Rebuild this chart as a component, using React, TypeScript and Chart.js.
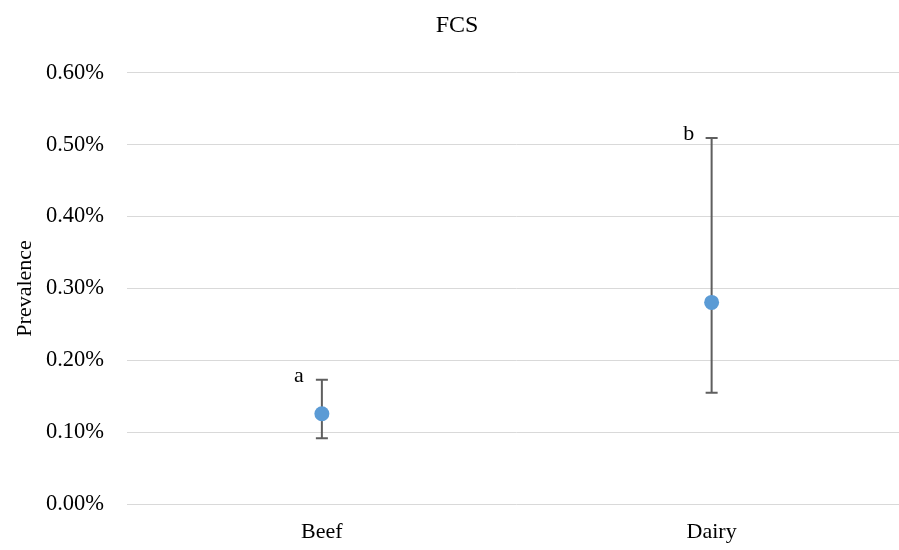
import React, { useEffect, useRef } from "react";
import { Chart, registerables } from "chart.js";

Chart.register(...registerables);

const categories = ["Beef", "Dairy"];
const prevalence = [0.1256, 0.2805];
const lowerBound = [0.0916, 0.1548];
const upperBound = [0.1730, 0.5093];
const groupLetters = ["a", "b"];
const yTicks = [0, 0.1, 0.2, 0.3, 0.4, 0.5, 0.6];

const FONT = "'Liberation Serif'";

const errorBarPlugin = {
  id: "errorBars",
  beforeDatasetsDraw(chart: any) {
    const ctx = chart.ctx;
    const x = chart.scales.x;
    const y = chart.scales.y;
    ctx.save();
    ctx.strokeStyle = "#5f5f5f";
    ctx.lineWidth = 2;
    categories.forEach((_, i) => {
      const px = x.getPixelForValue(i);
      const yt = y.getPixelForValue(upperBound[i]);
      const yb = y.getPixelForValue(lowerBound[i]);
      ctx.beginPath();
      ctx.moveTo(px, yt);
      ctx.lineTo(px, yb);
      ctx.moveTo(px - 6, yt);
      ctx.lineTo(px + 6, yt);
      ctx.moveTo(px - 6, yb);
      ctx.lineTo(px + 6, yb);
      ctx.stroke();
    });
    ctx.restore();
  },
  afterDatasetsDraw(chart: any) {
    const ctx = chart.ctx;
    const x = chart.scales.x;
    const y = chart.scales.y;
    ctx.save();
    ctx.fillStyle = "#000000";
    ctx.font = "22px " + FONT;
    ctx.textAlign = "center";
    ctx.textBaseline = "alphabetic";
    categories.forEach((_, i) => {
      const px = x.getPixelForValue(i);
      const yt = y.getPixelForValue(upperBound[i]);
      ctx.fillText(groupLetters[i], px - 23, yt + 2);
    });
    ctx.restore();
  },
};

export default function App() {
  const ref = useRef<HTMLCanvasElement | null>(null);
  useEffect(() => {
    if (!ref.current) return;
    const chart = new Chart(ref.current, {
      type: "line",
      data: {
        labels: categories,
        datasets: [
          {
            label: "Prevalence",
            data: prevalence,
            showLine: false,
            pointRadius: 7.5,
            pointHoverRadius: 7.5,
            pointBackgroundColor: "#5b9bd5",
            pointBorderColor: "#5b9bd5",
            pointBorderWidth: 0,
          },
        ],
      },
      options: {
        responsive: false,
        animation: false,
        devicePixelRatio: 1,
        layout: { padding: { left: 0, right: 0, top: 0, bottom: 3 } },
        plugins: {
          legend: { display: false },
          tooltip: { enabled: false },
          title: {
            display: true,
            text: "FCS",
            color: "#000000",
            font: { family: FONT, size: 24, weight: "normal" },
            padding: { top: 11, bottom: 33 },
          },
        },
        scales: {
          x: {
            type: "category",
            offset: true,
            afterFit(scale: any) {
              scale.height = 43;
            },
            grid: { display: false, drawTicks: false },
            border: { display: false },
            ticks: {
              color: "#000000",
              padding: 15,
              font: { family: FONT, size: 22 },
            },
          },
          y: {
            min: 0,
            max: 0.6,
            afterFit(scale: any) {
              scale.width = 127;
            },
            afterBuildTicks(scale: any) {
              scale.ticks = yTicks.map((v) => ({ value: v }));
            },
            grid: { color: "#d9d9d9", lineWidth: 1, drawTicks: false },
            border: { display: false },
            ticks: {
              color: "#000000",
              padding: 23,
              font: { family: FONT, size: 22.5 },
              callback: (v: any) => Number(v).toFixed(2) + "%",
            },
            title: {
              display: true,
              text: "Prevalence",
              color: "#000000",
              font: { family: FONT, size: 22 },
              padding: { top: 12, bottom: 0 },
            },
          },
        },
      },
      plugins: [errorBarPlugin],
    });
    return () => chart.destroy();
  }, []);
  return (
    <div
      style={{
        position: "fixed",
        left: 0,
        top: 0,
        width: 899,
        height: 550,
        overflow: "hidden",
        background: "#ffffff",
      }}
    >
      <canvas ref={ref} width={914} height={550} style={{ display: "block" }} />
    </div>
  );
}
